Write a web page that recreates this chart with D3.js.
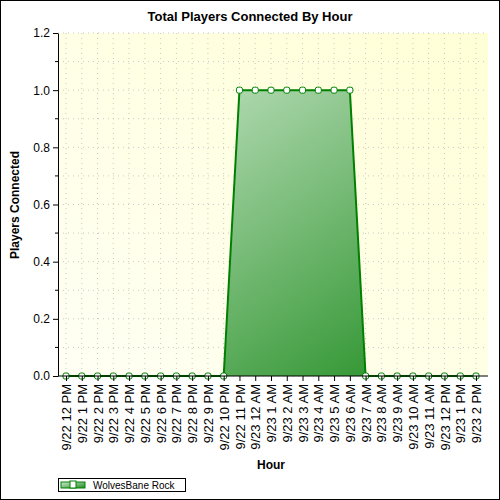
<!DOCTYPE html>
<html><head><meta charset="utf-8">
<script src="https://cdn.jsdelivr.net/npm/d3@7"></script>
<style>body{margin:0;background:#fff}</style>
</head><body>
<script>
var hours = ["9/22 12 PM","9/22 1 PM","9/22 2 PM","9/22 3 PM","9/22 4 PM","9/22 5 PM","9/22 6 PM","9/22 7 PM","9/22 8 PM","9/22 9 PM","9/22 10 PM","9/22 11 PM","9/23 12 AM","9/23 1 AM","9/23 2 AM","9/23 3 AM","9/23 4 AM","9/23 5 AM","9/23 6 AM","9/23 7 AM","9/23 8 AM","9/23 9 AM","9/23 10 AM","9/23 11 AM","9/23 12 PM","9/23 1 PM","9/23 2 PM"];
var players = [0,0,0,0,0,0,0,0,0,0,0,1,1,1,1,1,1,1,1,0,0,0,0,0,0,0,0];
var yTicks = [0,0.2,0.4,0.6,0.8,1.0,1.2];
var seriesName = "WolvesBane Rock";

var L = 58, R = 488, T = 33, B = 376;
var svg = d3.select("body").append("svg").attr("width", 500).attr("height", 500)
  .style("font-family", "Arial, 'Liberation Sans', sans-serif");
var defs = svg.append("defs");
var bg = defs.append("linearGradient").attr("id", "bg").attr("x1", 0).attr("y1", 1).attr("x2", 1).attr("y2", 0);
bg.append("stop").attr("offset", 0).attr("stop-color", "#fffff4");
bg.append("stop").attr("offset", 1).attr("stop-color", "#ffffd6");
var ar = defs.append("linearGradient").attr("id", "ar").attr("x1", 0).attr("y1", 0).attr("x2", 1).attr("y2", 1);
ar.append("stop").attr("offset", 0).attr("stop-color", "#d2ead2");
ar.append("stop").attr("offset", 1).attr("stop-color", "#1e8c1e");

svg.append("rect").attr("x", 0.5).attr("y", 0.5).attr("width", 499).attr("height", 499).attr("fill", "#fff").attr("stroke", "#000");
svg.append("rect").attr("x", L).attr("y", T).attr("width", R - L).attr("height", B - T).attr("fill", "url(#bg)");

var x = d3.scalePoint().domain(hours).range([66, 476]);
var y = d3.scaleLinear().domain([0, 1.2]).range([B, T]);

// grid
var g = svg.append("g").attr("stroke", "#c8c8c8").attr("stroke-dasharray", "1,4");
hours.forEach(function (h) { g.append("line").attr("x1", x(h)).attr("x2", x(h)).attr("y1", T).attr("y2", B); });
d3.range(0, 1.21, 0.1).forEach(function (v) { g.append("line").attr("x1", L).attr("x2", R).attr("y1", y(v)).attr("y2", y(v)); });

var area = d3.area().x(function (d, i) { return x(hours[i]); }).y0(y(0)).y1(function (d) { return y(d); });
var line = d3.line().x(function (d, i) { return x(hours[i]); }).y(function (d) { return y(d); });
svg.append("path").datum(players).attr("d", area).attr("fill", "url(#ar)");
svg.append("path").datum(players).attr("d", line).attr("fill", "none").attr("stroke", "#008000").attr("stroke-width", 2);
svg.selectAll("rect.m").data(players).enter().append("rect")
  .attr("x", function (d, i) { return x(hours[i]) - 3; }).attr("y", function (d) { return y(d) - 3; })
  .attr("width", 6).attr("height", 6).attr("rx", 2)
  .attr("fill", "#fff").attr("stroke", "#008000").attr("stroke-width", 1);

// axes
var ya = svg.append("g").attr("transform", "translate(" + L + ",0)")
  .call(d3.axisLeft(y).tickValues(yTicks).tickFormat(d3.format(".1f")).tickSize(5).tickSizeOuter(0));
ya.append("g").selectAll("line").data(d3.range(0.1, 1.2, 0.2)).enter().append("line")
  .attr("x1", -3).attr("x2", 0).attr("y1", function (d) { return y(d); }).attr("y2", function (d) { return y(d); }).attr("stroke", "#000");
var xa = svg.append("g").attr("transform", "translate(0," + B + ")")
  .call(d3.axisBottom(x).tickSize(5).tickSizeOuter(0));
xa.select(".domain").attr("d", "M" + L + ",0H" + R);
[ya, xa].forEach(function (a) { a.selectAll("text").attr("font-size", 12).attr("fill", "#000").style("font-family", "Arial, 'Liberation Sans', sans-serif"); });
xa.selectAll("text").attr("font-size", 13).attr("transform", "rotate(-90)").attr("text-anchor", "end").attr("x", -8).attr("y", 0).attr("dy", "0.35em");

svg.append("text").attr("x", 250).attr("y", 21).attr("text-anchor", "middle").attr("font-size", 13).attr("font-weight", "bold").text("Total Players Connected By Hour");
svg.append("text").attr("x", 271).attr("y", 469).attr("text-anchor", "middle").attr("font-size", 12).attr("font-weight", "bold").text("Hour");
svg.append("text").attr("transform", "translate(19,205) rotate(-90)").attr("text-anchor", "middle").attr("font-size", 12).attr("font-weight", "bold").text("Players Connected");

// legend
var lg = svg.append("g");
lg.append("rect").attr("x", 58.5).attr("y", 478.5).attr("width", 127).attr("height", 13).attr("fill", "#fff").attr("stroke", "#000");
lg.append("rect").attr("x", 61).attr("y", 482).attr("width", 24).attr("height", 6).attr("fill", "url(#ar)").attr("stroke", "#008000");
lg.append("rect").attr("x", 70).attr("y", 481).attr("width", 6).attr("height", 7).attr("fill", "#fff").attr("stroke", "#008000");
lg.append("text").attr("x", 93).attr("y", 489).attr("font-size", 10).text(seriesName);
</script>
</body></html>
